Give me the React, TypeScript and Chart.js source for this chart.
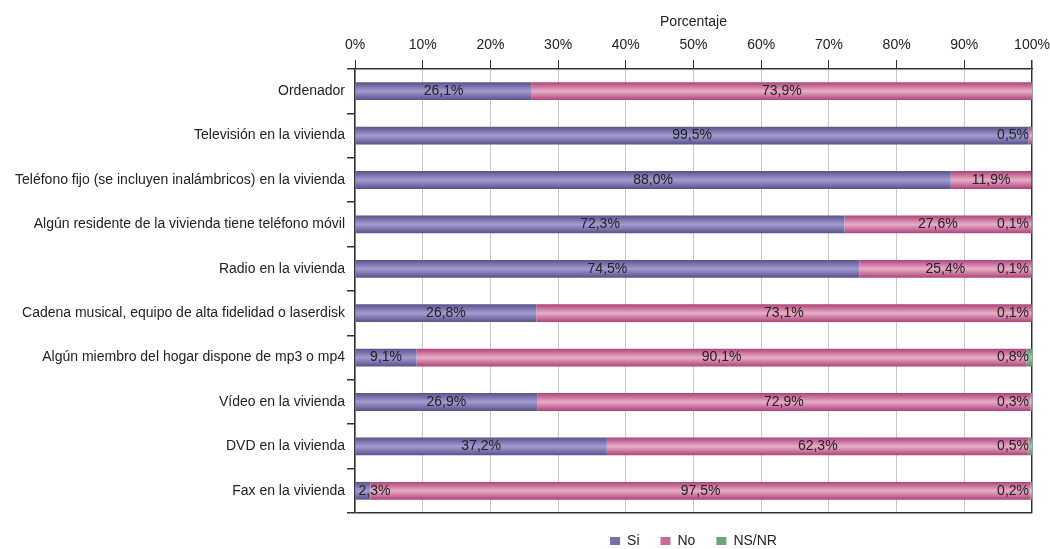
import { useEffect, useRef } from 'react';
import { Chart, registerables } from 'chart.js';

Chart.register(...registerables);

const categories = [
  'Ordenador',
  'Televisión en la vivienda',
  'Teléfono fijo (se incluyen inalámbricos) en la vivienda',
  'Algún residente de la vivienda tiene teléfono móvil',
  'Radio en la vivienda',
  'Cadena musical, equipo de alta fidelidad o laserdisk',
  'Algún miembro del hogar dispone de mp3 o mp4',
  'Vídeo en la vivienda',
  'DVD en la vivienda',
  'Fax en la vivienda',
];

const siValues = [26.1, 99.5, 88.0, 72.3, 74.5, 26.8, 9.1, 26.9, 37.2, 2.3];
const noValues = [73.9, 0.5, 11.9, 27.6, 25.4, 73.1, 90.1, 72.9, 62.3, 97.5];
const nsnrValues = [0, 0, 0, 0.1, 0.1, 0.1, 0.8, 0.3, 0.5, 0.2];

const seriesNames = ['Si', 'No', 'NS/NR'];
const axisTitle = 'Porcentaje';

const FONT = '"Liberation Sans", Arial, sans-serif';
const TEXT = '#222222';

const palettes = [
  { edge: '#58528a', mid: '#a29cd2', solid: '#7670a8' },
  { edge: '#ad4379', mid: '#e8aec8', solid: '#c86c9a' },
  { edge: '#4c9564', mid: '#94d0a6', solid: '#66a87a' },
];

const BAR_FRAC = 0.4;

function gradientFor(idx: number) {
  return (ctx: any) => {
    const p = palettes[idx];
    const chart = ctx.chart;
    const area = chart.chartArea;
    if (!area || ctx.type !== 'data' || !chart.scales.y) return p.solid;
    const y = chart.scales.y.getPixelForValue(ctx.dataIndex);
    const h = ((area.bottom - area.top) / categories.length) * BAR_FRAC;
    const g = chart.ctx.createLinearGradient(0, y - h / 2, 0, y + h / 2);
    g.addColorStop(0, p.edge);
    g.addColorStop(0.5, p.mid);
    g.addColorStop(1, p.edge);
    return g;
  };
}

const fmt = (v: number) => v.toFixed(1).replace('.', ',') + '%';

const labelPlugin = {
  id: 'barLabels',
  afterDatasetsDraw(chart: any) {
    const ctx = chart.ctx;
    const area = chart.chartArea;
    ctx.save();
    ctx.font = `14px ${FONT}`;
    ctx.fillStyle = TEXT;
    ctx.textBaseline = 'middle';
    chart.data.datasets.forEach((ds: any, di: number) => {
      const meta = chart.getDatasetMeta(di);
      meta.data.forEach((bar: any, i: number) => {
        const v = ds.data[i];
        if (!v) return;
        const { x, base, y } = bar.getProps(['x', 'base', 'y'], true);
        const left = Math.min(x, base);
        const right = Math.min(Math.max(x, base), area.right);
        const txt = fmt(v);
        const w = ctx.measureText(txt).width;
        if (di === 2) {
          ctx.textAlign = 'right';
          ctx.fillText(txt, area.right - 3, y);
        } else if (w + 4 <= right - left) {
          ctx.textAlign = 'center';
          ctx.fillText(txt, (left + right) / 2, y);
        } else if (di === 0) {
          ctx.textAlign = 'left';
          ctx.fillText(txt, left + 3, y);
        } else {
          ctx.textAlign = 'right';
          ctx.fillText(txt, area.right - 3, y);
        }
      });
    });
    ctx.restore();
  },
};

export default function App() {
  const ref = useRef<HTMLCanvasElement>(null);

  useEffect(() => {
    if (!ref.current) return;
    const chart = new Chart(ref.current, {
      type: 'bar',
      data: {
        labels: categories,
        datasets: [siValues, noValues, nsnrValues].map((d, i) => ({
          label: seriesNames[i],
          data: d,
          backgroundColor: gradientFor(i),
          borderWidth: 0,
          barPercentage: BAR_FRAC,
          categoryPercentage: 1,
        })),
      },
      options: {
        indexAxis: 'y',
        responsive: true,
        maintainAspectRatio: false,
        animation: false,
        layout: { padding: 0 },
        font: { family: FONT, size: 14 },
        color: TEXT,
        scales: {
          x: {
            position: 'top',
            stacked: true,
            min: 0,
            max: 100,
            ticks: {
              stepSize: 10,
              color: TEXT,
              font: { family: FONT, size: 14 },
              padding: 6,
              callback: (v: any) => v + '%',
            },
            grid: {
              color: (c: any) => (c.index === 10 ? '#333' : '#c8c8c8'),
              tickColor: '#333',
              tickLength: 9,
              lineWidth: (c: any) => (c.index === 10 ? 1.5 : 1),
            },
            border: { color: '#333', width: 1.5 },
            title: {
              display: true,
              text: axisTitle,
              color: TEXT,
              font: { family: FONT, size: 14 },
              padding: { top: 14, bottom: 0 },
            },
            afterFit: (s: any) => {
              s.height = 69;
              s.paddingRight = 18;
            },
          },
          y: {
            stacked: true,
            ticks: {
              color: TEXT,
              font: { family: FONT, size: 14 },
              padding: 2,
            },
            grid: {
              offset: true,
              drawOnChartArea: true,
              color: (c: any) => (c.index === undefined || c.index >= categories.length ? '#333' : 'rgba(0,0,0,0)'),
              lineWidth: 1.5,
              tickColor: '#333',
              tickLength: 8,
            },
            border: { color: '#333', width: 1.5 },
            afterFit: (s: any) => {
              s.width = 355;
            },
          },
        },
        plugins: {
          legend: {
            position: 'bottom',
            fullSize: false,
            labels: {
              boxWidth: 10,
              boxHeight: 8,
              padding: 21,
              color: TEXT,
              font: { family: FONT, size: 14 },
              generateLabels: (ch: any) => {
                const items = Chart.defaults.plugins.legend.labels.generateLabels(ch);
                return items.map((it: any, i: number) => ({
                  ...it,
                  fillStyle: palettes[i].solid,
                  strokeStyle: palettes[i].solid,
                  lineWidth: 0,
                }));
              },
            },
          },
          tooltip: { enabled: false },
        },
      },
      plugins: [labelPlugin],
    });
    return () => chart.destroy();
  }, []);

  return (
    <div style={{ position: 'fixed', left: 0, top: 0, width: 1050, height: 558, background: '#fff' }}>
      <canvas ref={ref} />
    </div>
  );
}
